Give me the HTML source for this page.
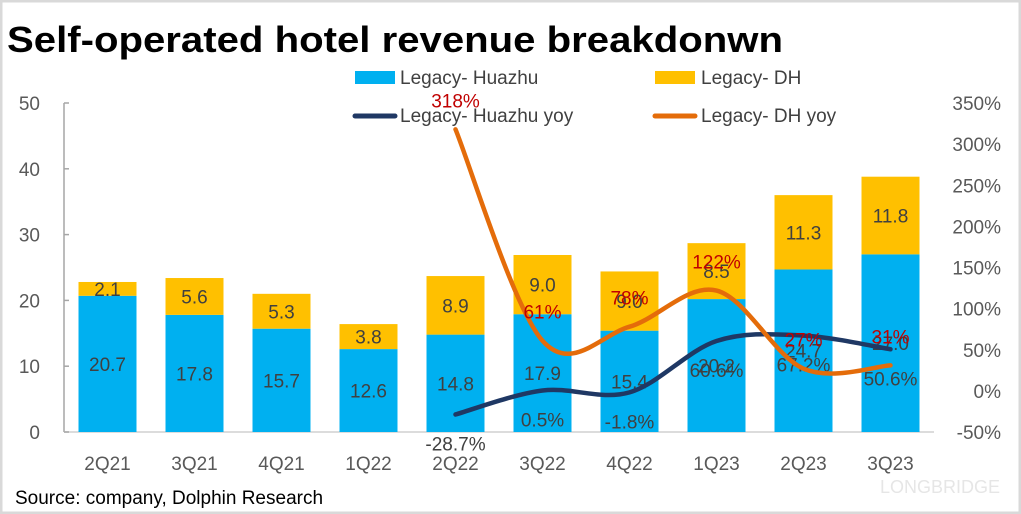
<!DOCTYPE html>
<html><head><meta charset="utf-8"><style>
body{margin:0;background:#fff}
svg{display:block;font-family:"Liberation Sans","Noto Sans CJK SC",sans-serif}
</style></head><body>
<svg id="chart" width="1021" height="514" viewBox="0 0 1021 514" xmlns="http://www.w3.org/2000/svg">
<rect x="1" y="1" width="1019" height="512" fill="#fff" stroke="#d9d9d9" stroke-width="3"/>
<text x="7" y="52" font-size="36" font-weight="bold" textLength="776" lengthAdjust="spacingAndGlyphs" fill="#000">Self-operated hotel revenue breakdonwn</text>
<g>
<g><rect x="355" y="71" width="40" height="13" fill="#00b0f0"/><text x="400" y="84" font-size="19" fill="#404040">Legacy- Huazhu</text></g>
<g><rect x="655" y="71" width="40" height="13" fill="#ffc000"/><text x="701" y="84" font-size="19" fill="#404040">Legacy- DH</text></g>
<g><line x1="355" y1="116" x2="395" y2="116" stroke="#1f3864" stroke-width="5" stroke-linecap="round"/><text x="400" y="122" font-size="19" fill="#404040">Legacy- Huazhu yoy</text></g>
<g><line x1="655" y1="116" x2="695" y2="116" stroke="#e46c0a" stroke-width="5" stroke-linecap="round"/><text x="701" y="122" font-size="19" fill="#404040">Legacy- DH yoy</text></g>
</g>
<g id="axes"></g>
<g id="bars"></g>
<g id="lines"></g>
<text x="15" y="504" font-size="19" fill="#000">Source: company, Dolphin Research</text>
<text x="1000" y="493" font-size="18" fill="#e6e6e6" text-anchor="end">LONGBRIDGE</text>
</svg>
<script>
const categories=["2Q21","3Q21","4Q21","1Q22","2Q22","3Q22","4Q22","1Q23","2Q23","3Q23"];
const huazhu=[20.7,17.8,15.7,12.6,14.8,17.9,15.4,20.2,24.7,27.0];
const dh=[2.1,5.6,5.3,3.8,8.9,9.0,9.0,8.5,11.3,11.8];
const huazhuYoy=[null,null,null,null,-28.7,0.5,-1.8,60.6,67.2,50.6];
const dhYoy=[null,null,null,null,318,61,78,122,27,31];
const leftTicks=[0,10,20,30,40,50];
const rightTicks=[-50,0,50,100,150,200,250,300,350];
const NS="http://www.w3.org/2000/svg";
const X0=64,X1=934,Y0=432,Y1=103;
const xc=i=>X0+(X1-X0)/categories.length*(i+0.5);
const yl=v=>Y0-(v-0)/(50-0)*(Y0-Y1);
const yr=v=>Y0-(v+50)/(400)*(Y0-Y1);
function mk(tag,attrs,parent,txt){const e=document.createElementNS(NS,tag);for(const k in attrs)e.setAttribute(k,attrs[k]);if(txt!==undefined)e.textContent=txt;parent.appendChild(e);return e;}
const axes=document.getElementById('axes'),bars=document.getElementById('bars'),lines=document.getElementById('lines');
let a=mk('line',{x1:X0,y1:Y1,x2:X0,y2:Y0,stroke:'#a6a6a6','stroke-width':1.5},axes);

a=mk('line',{x1:X0,y1:Y0,x2:X1,y2:Y0,stroke:'#d0d0d0','stroke-width':1.5},axes);

leftTicks.forEach(t=>{
 mk('line',{x1:X0,y1:yl(t),x2:X0+5,y2:yl(t),stroke:'#a6a6a6','stroke-width':1.5},axes);
 const e=mk('text',{x:40,y:yl(t)+7,'font-size':19,fill:'#595959','text-anchor':'end'},axes,t);
 
});
rightTicks.forEach(t=>{
 const e=mk('text',{x:1001,y:yr(t)+7,'font-size':19,fill:'#595959','text-anchor':'end'},axes,t+'%');
 
});
const BW=58;
categories.forEach((c,i)=>{
 const x=xc(i);
 const e=mk('text',{x:x,y:470,'font-size':19,fill:'#595959','text-anchor':'middle'},axes,c);
 
 const b1=mk('rect',{x:x-BW/2,y:yl(huazhu[i]),width:BW,height:Y0-yl(huazhu[i]),fill:'#00b0f0'},bars);
 
 const top=huazhu[i]+dh[i];
 const b2=mk('rect',{x:x-BW/2,y:yl(top),width:BW,height:yl(huazhu[i])-yl(top),fill:'#ffc000'},bars);
 
 let t=mk('text',{x:x,y:(yl(huazhu[i])+Y0)/2+7,'font-size':19,fill:'#404040','text-anchor':'middle'},bars,huazhu[i].toFixed(1));
 
 t=mk('text',{x:x,y:(yl(top)+yl(huazhu[i]))/2+7,'font-size':19,fill:'#404040','text-anchor':'middle'},bars,dh[i].toFixed(1));
 
});
function smooth(pts){
 let d='M'+pts[0].x+','+pts[0].y;
 for(let i=0;i<pts.length-1;i++){
  const p0=pts[i-1]||pts[i],p1=pts[i],p2=pts[i+1],p3=pts[i+2]||p2;
  const c1x=p1.x+(p2.x-p0.x)/6,c1y=p1.y+(p2.y-p0.y)/6,c2x=p2.x-(p3.x-p1.x)/6,c2y=p2.y-(p3.y-p1.y)/6;
  d+=' C'+c1x+','+c1y+' '+c2x+','+c2y+' '+p2.x+','+p2.y;
 }
 return d;
}
function series(vals,color,name,labelColor,dy,fmt){
 const pts=[];vals.forEach((v,i)=>{if(v!==null)pts.push({x:xc(i),y:yr(v),v:v});});
 const p=mk('path',{d:smooth(pts),fill:'none',stroke:color,'stroke-width':4.5,'stroke-linecap':'round'},lines);
 
 pts.forEach(q=>{
  const t=mk('text',{x:q.x,y:q.y+dy,'font-size':19,fill:labelColor,'text-anchor':'middle'},lines,fmt(q.v));
  
 });
}
series(huazhuYoy,'#1f3864','line-huazhu-yoy','#404040',36,v=>v.toFixed(1)+'%');
series(dhYoy,'#e46c0a','line-dh-yoy','#c00000',-22,v=>Math.round(v)+'%');
</script>
</body></html>
